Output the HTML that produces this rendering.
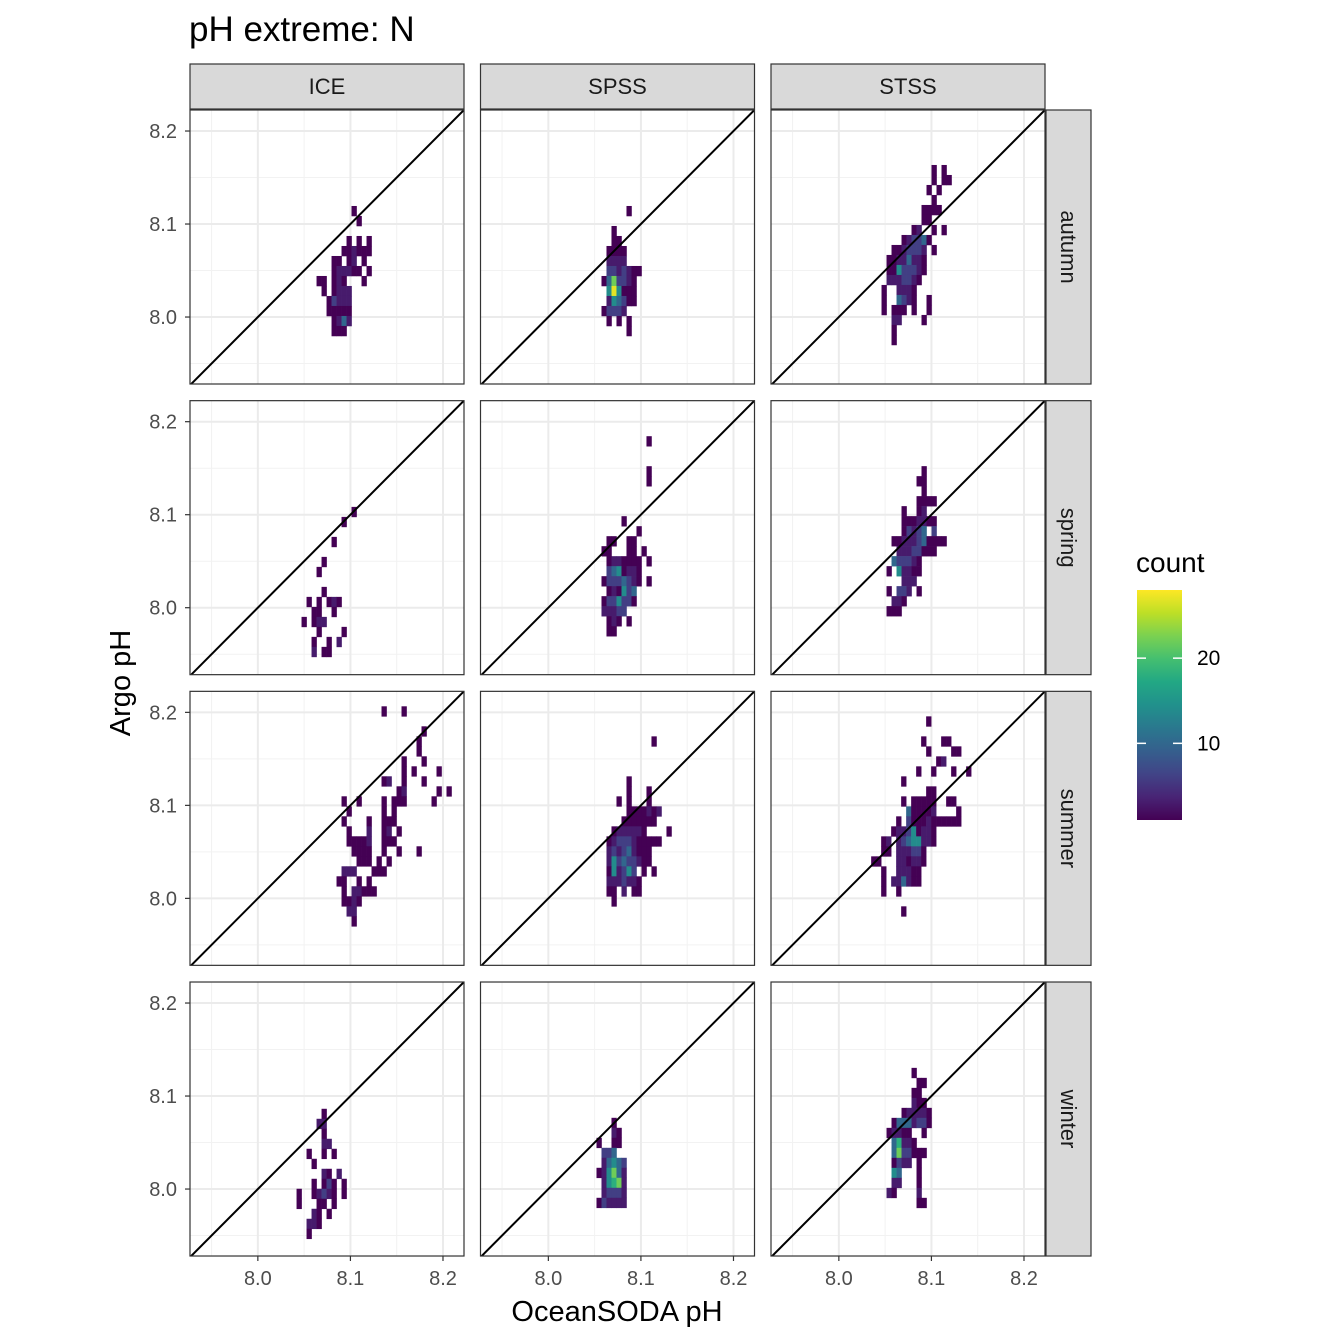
<!DOCTYPE html>
<html><head><meta charset="utf-8"><style>
html,body{margin:0;padding:0;background:#fff;}
svg{display:block;font-family:"Liberation Sans",Arial,sans-serif;}
</style></head><body>
<svg id="chart" width="1344" height="1344" viewBox="0 0 1344 1344" xmlns="http://www.w3.org/2000/svg">
<text x="189" y="41" font-size="35" fill="#000">pH extreme: N</text>
<text x="617" y="1321" font-size="29" text-anchor="middle" fill="#000">OceanSODA pH</text>
<text transform="translate(130,683) rotate(-90)" font-size="29" text-anchor="middle" fill="#000">Argo pH</text>
<g id="panels"></g>
<g id="legend"></g>
</svg>
<script>
const colNames = ["ICE","SPSS","STSS"];
const rowNames = ["autumn","spring","summer","winter"];
const xTicks = [8.0, 8.1, 8.2];
const yTicks = [8.0, 8.1, 8.2];
const tickLabels = ["8.0","8.1","8.2"];
const levelCounts = [0,1,3,6,10,14,18,22,27];
const legendTicks = [10,20];
// grid origins (data units): left edge of first column, top edge of first row
const gridX0 = [[8.0634,8.0574,8.0461],[8.0472,8.0574,8.0515],[8.0850,8.0628,8.0349],[8.0418,8.0520,8.0515]];
const gridYTop = [[8.1194,8.1194,8.1635],[8.1084,8.1844,8.1522],[8.2065,8.1742,8.1957],[8.0863,8.0766,8.1303]];
const grids = [
[
[".......1...","........1..","...........","......1.1.1",".....112111","...11.12.1.","...122211.1","11.121...1.",".1.1222....","..13222....","..11111....","...1242....","...111....."],
[".....1..","........","..1.....","..11....",".1111...",".2222...",".3323211","1473321.",".585111.",".254311.","13332...",".1.1.1..",".....1.."],
["..........1.1.","..........1.11",".........1.1..","..........1...","........1111..","........11....","......12..1.1.","....123341....","..1123332.1...",".11224221.....",".11533321.....",".2223321......","1..2221.......","1..4321..1....","1.111.1..1....","..22....1.....","..1...........","..1..........."]
],
[
["..........1","........1..","...........","......1....","...........","....1......","...1.......","...........","....1......",".1.1.121...","..11..1....","1.122......","...1....1..","..1..1.2...","..2.11....."],
[".........1","..........","..........",".........1",".........1","..........","..........","..........","....1.....",".......1..",".11..11...","11...11.1.",".1221111.1",".3451221..","13334321.1",".121534...","1335331...","22233.....",".121.1....",".11......."],
[".......1....","......11....",".......1....","......1111..","...1..12....","...1112211..","...13234.3..",".11222341111","..22233111..",".433321.....","1.52211.....","...222......","1.332.1.....",".221........","111........."]
],
[
[".........1...1.........",".......................",".................1.....","................1......","................1......",".............1...1.....",".............1.1....1..",".........12..1...1.....","............12......1.1",".1..1....1.111.....1...","..1......1.1...........",".1....1..111...........","..1...2..12.1..........","..11112..111...........","...1111..1..1...1......","....111.1.1............",".222...111.............","11..1.1................",".1.22111...............",".1121..................","..22...................","...1..................."],
[".........1...",".............",".............",".............","....1........","....1...1....","..1.1...1....","....1111212..","...1111111...",".1222221....1","12333211111..","232342111....","253433211....","152353.1.1...","2223221......","11.2.11......",".1..........."],
["...........1........","....................","..........1...11....","...........1....11..",".............12.....",".........1..1...1..1","......1.............","...........11.......","......1.11111..11...",".......411112....1..",".....1.31112111111..","....122351221.......","..12.23455221.......","..11.222331.........","11...221221.........","..1..22211..........","..1.224211..........","..1..1..............","....................","......1............."]
],
[
[".....1....","....22....",".....1....",".....22...","..1..1.1..","...1......",".....21.2.","...1.131.1","1..12321.1","1...11.1..","...21.1...","..221.....","..1......."],
["...1..","...21.","1..11.",".334..",".24543","125742",".25672",".23332","132222"],
[".....1...","......11.",".....11..",".....211.","...122221",".14442331","12211..1.",".46221...",".4733111.",".1322.1..",".54...1..",".22...1..","21....2..","......11."]
]
];
const xbin = 0.0054, ybin = 0.01075;
const xMin = 7.9267, xMax = 8.2227, yMin = 7.928, yMax = 8.2226;
const cMin = 1, cMax = 28;
const vir = ["#440154","#482475","#414487","#355f8d","#2a788e","#21918c","#22a884","#44bf70","#7ad151","#bddf26","#fde725"];

const NS = "http://www.w3.org/2000/svg";
function mk(tag, attrs, parent){const e=document.createElementNS(NS,tag);for(const k in attrs)e.setAttribute(k,attrs[k]);if(parent)parent.appendChild(e);return e;}
function hex2rgb(h){return [parseInt(h.substr(1,2),16),parseInt(h.substr(3,2),16),parseInt(h.substr(5,2),16)];}
function viridis(t){t=Math.max(0,Math.min(1,t));const p=t*(vir.length-1);const i=Math.min(vir.length-2,Math.floor(p));const f=p-i;const a=hex2rgb(vir[i]),b=hex2rgb(vir[i+1]);return "rgb("+a.map((v,k)=>Math.round(v+(b[k]-v)*f)).join(",")+")";}
const colStep = 290.5, rowStep = 290.67, pW = 274, pH = 274, L0 = 190, T0 = 110;
const pxScale = pW/(xMax-xMin), pyScale = pH/(yMax-yMin);

const root = document.getElementById("panels");
const defs = mk("defs",{},root);
for(let r=0;r<4;r++){
  for(let c=0;c<3;c++){
    const L = L0 + c*colStep, T = T0 + r*rowStep;
    const X = v => L + (v-xMin)*pxScale;
    const Y = v => T + (yMax-v)*pyScale;
    const cp = mk("clipPath",{id:"cp"+r+c},defs);
    mk("rect",{x:L,y:T,width:pW,height:pH},cp);
    const g = mk("g",{},root);
    
    
    mk("rect",{x:L,y:T,width:pW,height:pH,fill:"#fff"},g);
    [7.95,8.05,8.15].forEach(v=>{
      mk("line",{x1:X(v),x2:X(v),y1:T,y2:T+pH,stroke:"#f2f2f2","stroke-width":1},g);
      mk("line",{x1:L,x2:L+pW,y1:Y(v),y2:Y(v),stroke:"#f2f2f2","stroke-width":1},g);
    });
    xTicks.forEach(v=>mk("line",{x1:X(v),x2:X(v),y1:T,y2:T+pH,stroke:"#ebebeb","stroke-width":2},g));
    yTicks.forEach(v=>mk("line",{x1:L,x2:L+pW,y1:Y(v),y2:Y(v),stroke:"#ebebeb","stroke-width":2},g));
    const tg = mk("g",{"clip-path":"url(#cp"+r+c+")"},g);
    const grid = grids[r][c], x0 = gridX0[r][c], yT = gridYTop[r][c];
    grid.forEach((row,i)=>{
      for(let j=0;j<row.length;j++){
        const ch=row[j]; if(ch==='.'||ch===' ') continue;
        const cnt = levelCounts[parseInt(ch)];
        const xa = x0 + j*xbin, yb = yT - i*ybin;
        const t = mk("rect",{x:X(xa).toFixed(2),y:Y(yb).toFixed(2),width:(xbin*pxScale+0.3).toFixed(2),height:(ybin*pyScale+0.3).toFixed(2),fill:viridis((cnt-cMin)/(cMax-cMin))},tg);
        
        
      }
    });
    const d = mk("line",{x1:X(xMin),y1:Y(xMin),x2:X(xMax),y2:Y(xMax),stroke:"#000","stroke-width":2,"clip-path":"url(#cp"+r+c+")"},g);
    
    
    mk("rect",{x:L,y:T,width:pW,height:pH,fill:"none",stroke:"#333","stroke-width":1.2},g);
    if(c===0){
      yTicks.forEach((v,k)=>{
        mk("line",{x1:L-5,x2:L,y1:Y(v),y2:Y(v),stroke:"#333","stroke-width":1.2},g);
        const tx = mk("text",{x:L-13,y:Y(v)+7,"font-size":20,"text-anchor":"end",fill:"#4d4d4d"},g);
        tx.textContent = tickLabels[k];
        
        
      });
    }
    if(r===3){
      xTicks.forEach((v,k)=>{
        mk("line",{x1:X(v),x2:X(v),y1:T+pH,y2:T+pH+5,stroke:"#333","stroke-width":1.2},g);
        const tx = mk("text",{x:X(v),y:T+pH+29,"font-size":20,"text-anchor":"middle",fill:"#4d4d4d"},g);
        tx.textContent = tickLabels[k];
        
        
      });
    }
    if(r===0){
      const s = mk("g",{},root);
      
      
      mk("rect",{x:L,y:64,width:pW,height:45,fill:"#d9d9d9",stroke:"#333","stroke-width":1.2},s);
      const st = mk("text",{x:L+pW/2,y:94,"font-size":22,"text-anchor":"middle",fill:"#1a1a1a"},s);
      st.textContent = colNames[c];
    }
    if(c===2){
      const s = mk("g",{},root);
      
      
      mk("rect",{x:1046,y:T,width:45,height:pH,fill:"#d9d9d9",stroke:"#333","stroke-width":1.2},s);
      const st = mk("text",{transform:"translate(1061,"+(T+pH/2)+") rotate(90)","font-size":22,"text-anchor":"middle",fill:"#1a1a1a"},s);
      st.textContent = rowNames[r];
    }
  }
}
const lg = document.getElementById("legend");
const ld = mk("defs",{},lg);
const grad = mk("linearGradient",{id:"vgrad",x1:0,y1:1,x2:0,y2:0},ld);
vir.forEach((cc,i)=>mk("stop",{offset:(i/(vir.length-1)),"stop-color":cc},grad));
const lt = mk("text",{x:1136,y:572,"font-size":28,fill:"#000"},lg);
lt.textContent = "count";
const barTop = 590, barBot = 820;
const LY = v => barBot - (v-cMin)/(cMax-cMin)*(barBot-barTop);
mk("rect",{x:1137,y:barTop,width:45,height:barBot-barTop,fill:"url(#vgrad)"},lg);
legendTicks.forEach(v=>{
  mk("line",{x1:1137,x2:1146,y1:LY(v),y2:LY(v),stroke:"#fff","stroke-width":1.5},lg);
  mk("line",{x1:1173,x2:1182,y1:LY(v),y2:LY(v),stroke:"#fff","stroke-width":1.5},lg);
  const t = mk("text",{x:1197,y:LY(v)+7,"font-size":21,fill:"#000"},lg);
  t.textContent = String(v);
  
  
});
</script>
</body></html>
